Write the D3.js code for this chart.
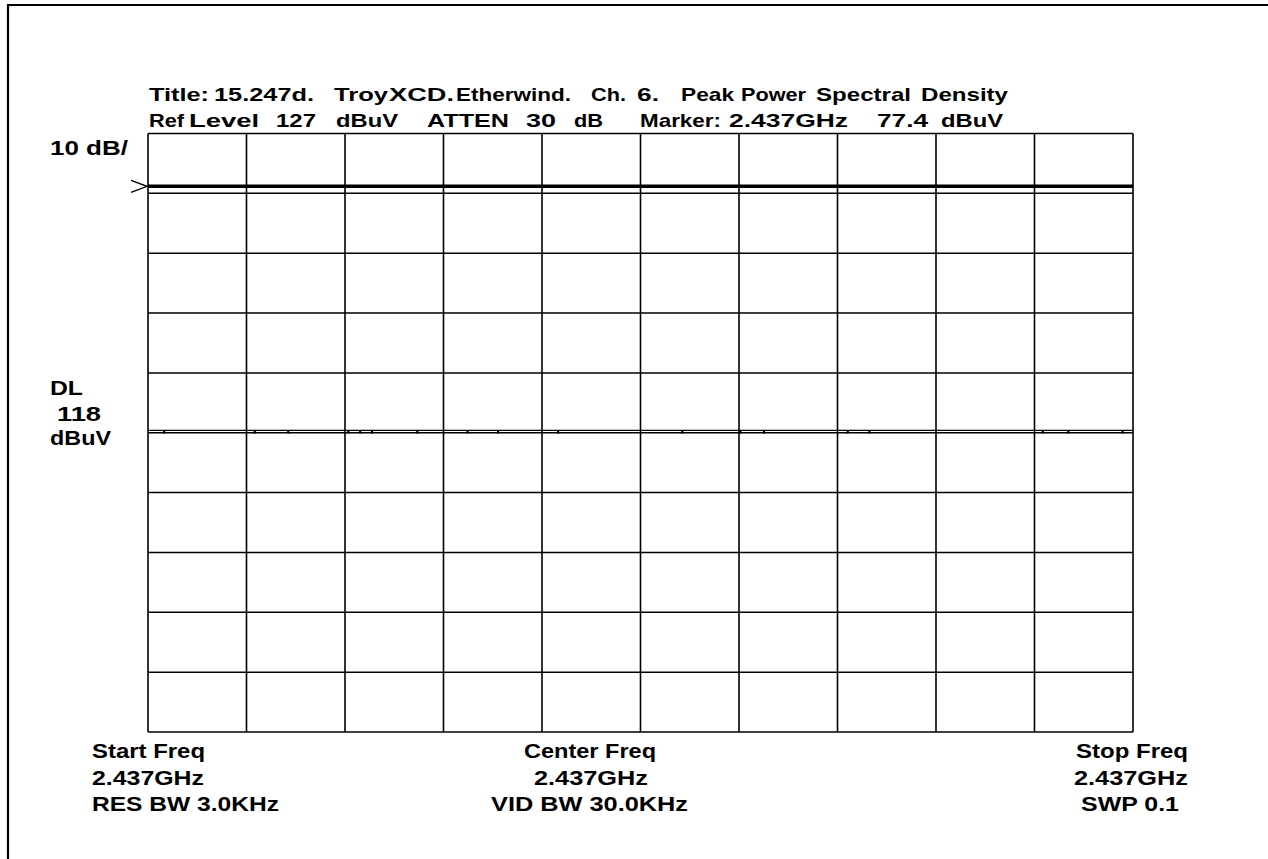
<!DOCTYPE html>
<html>
<head>
<meta charset="utf-8">
<script src="https://cdn.jsdelivr.net/npm/d3@7"></script>
<style>
html,body{margin:0;padding:0;background:#fff;}
svg{display:block;}
text{font-family:"Liberation Sans",Arial,sans-serif;font-weight:bold;fill:#000;}
</style>
</head>
<body>
<svg id="chart" width="1268" height="859"></svg>
<script>
// ---- data ----
const refLevel = 127;          // dBuV, top of screen
const dbPerDiv = 10;
const yDivisions = 10;
const xDivisions = 10;
const displayLine = 118;       // DL, dBuV
const sweepMs = 100;           // SWP 0.1 s, zero span
const traceLevel = 77.4;       // marker level dBuV
const dipLevel = 77.0;         // noise dips
const dipTimes = [1.6, 10.8, 14.2, 20.3, 21.5, 22.7, 27.3, 32.4, 35.5, 41.6,
                  54.2, 60.1, 62.5, 71.0, 73.2, 90.8, 93.4, 98.9]; // ms

const titleLine1 = ["Title:", "15.247d.", "Troy", "XCD.", "Etherwind.", "Ch.", "6.", "Peak", "Power", "Spectral", "Density"];
const titleLine2 = ["Ref", "Level", "127", "dBuV", "ATTEN", "30", "dB", "Marker:", "2.437GHz", "77.4", "dBuV"];
const leftLabels = ["10 dB/", "DL", "118", "dBuV"];
const bottomLeft = ["Start Freq", "2.437GHz", "RES BW 3.0KHz"];
const bottomCenter = ["Center Freq", "2.437GHz", "VID BW 30.0KHz"];
const bottomRight = ["Stop Freq", "2.437GHz", "SWP 0.1"];

// ---- layout ----
const svg = d3.select("#chart");
const plot = {x0: 148, x1: 1133, y0: 133.5, y1: 732};

const x = d3.scaleLinear().domain([0, sweepMs]).range([plot.x0, plot.x1]);
const y = d3.scaleLinear().domain([refLevel - dbPerDiv * yDivisions, refLevel]).range([plot.y1, plot.y0]);

// outer frame (top and left edges)
svg.append("path").attr("d", `M8,859 L8,5 L1268,5`).attr("fill", "none").attr("stroke", "#000").attr("stroke-width", 2.2);

// grid
const g = svg.append("g");
const xTicks = d3.range(xDivisions + 1).map(i => i * sweepMs / xDivisions);
const yTicks = d3.range(yDivisions + 1).map(i => refLevel - i * dbPerDiv);
g.selectAll("line.v").data(xTicks).join("line")
  .attr("x1", d => x(d)).attr("x2", d => x(d))
  .attr("y1", plot.y0).attr("y2", plot.y1)
  .attr("stroke", "#000").attr("stroke-width", 1.6);
g.selectAll("line.h").data(yTicks).join("line")
  .attr("y1", d => y(d)).attr("y2", d => y(d))
  .attr("x1", plot.x0).attr("x2", plot.x1)
  .attr("stroke", "#000").attr("stroke-width", 1.5);

// display line
svg.append("line")
  .attr("x1", plot.x0).attr("x2", plot.x1)
  .attr("y1", y(displayLine) - 1).attr("y2", y(displayLine) - 1)
  .attr("stroke", "#000").attr("stroke-width", 3.5);
// DL marker ">"
const dly = y(displayLine) - 1;
svg.append("path")
  .attr("d", `M${plot.x0 - 17},${dly - 6} L${plot.x0 - 1},${dly} L${plot.x0 - 17},${dly + 6}`)
  .attr("fill", "none").attr("stroke", "#000").attr("stroke-width", 1.4);

// trace
const tracePts = [[0, traceLevel]];
dipTimes.forEach(t => {
  tracePts.push([t, traceLevel], [t, dipLevel], [t + 0.08, dipLevel], [t + 0.08, traceLevel]);
});
tracePts.push([sweepMs, traceLevel]);
svg.append("path")
  .attr("d", d3.line().x(d => x(d[0])).y(d => y(d[1]))(tracePts))
  .attr("fill", "none").attr("stroke", "#000").attr("stroke-width", 1.4);

// ---- text helper ----
function fitText(str, x0, x1, baseline, size) {
  svg.append("text")
    .attr("x", x0).attr("y", baseline)
    .attr("font-size", size)
    .attr("textLength", x1 - x0)
    .attr("lengthAdjust", "spacingAndGlyphs")
    .text(str);
}

const t1 = [[149,209],[214,314],[334,388],[389,454],[456,571],[591,626],[637,659],[681,734],[741,806],[816,911],[921,1008]];
titleLine1.forEach((w, i) => fitText(w, t1[i][0], t1[i][1], 101, 19));
const t2 = [[149,184],[189,259],[276,316],[336,398],[427,509],[526,556],[574,603],[640,721],[729,848],[877,928],[941,1003]];
titleLine2.forEach((w, i) => fitText(w, t2[i][0], t2[i][1], 126.5, 19));

const lp = [[50,128,155],[50,83,395],[57,101,421],[50,111,445]];
leftLabels.forEach((w, i) => fitText(w, lp[i][0], lp[i][1], lp[i][2], 20));

const bl = [[92,205],[92,204],[92,279]];
const bc = [[524,656],[534,648],[491,688]];
const br = [[1076,1188],[1074,1188],[1081,1179]];
const bBase = [758, 785, 811];
bottomLeft.forEach((w, i) => fitText(w, bl[i][0], bl[i][1], bBase[i], 20));
bottomCenter.forEach((w, i) => fitText(w, bc[i][0], bc[i][1], bBase[i], 20));
bottomRight.forEach((w, i) => fitText(w, br[i][0], br[i][1], bBase[i], 20));
</script>
</body>
</html>
